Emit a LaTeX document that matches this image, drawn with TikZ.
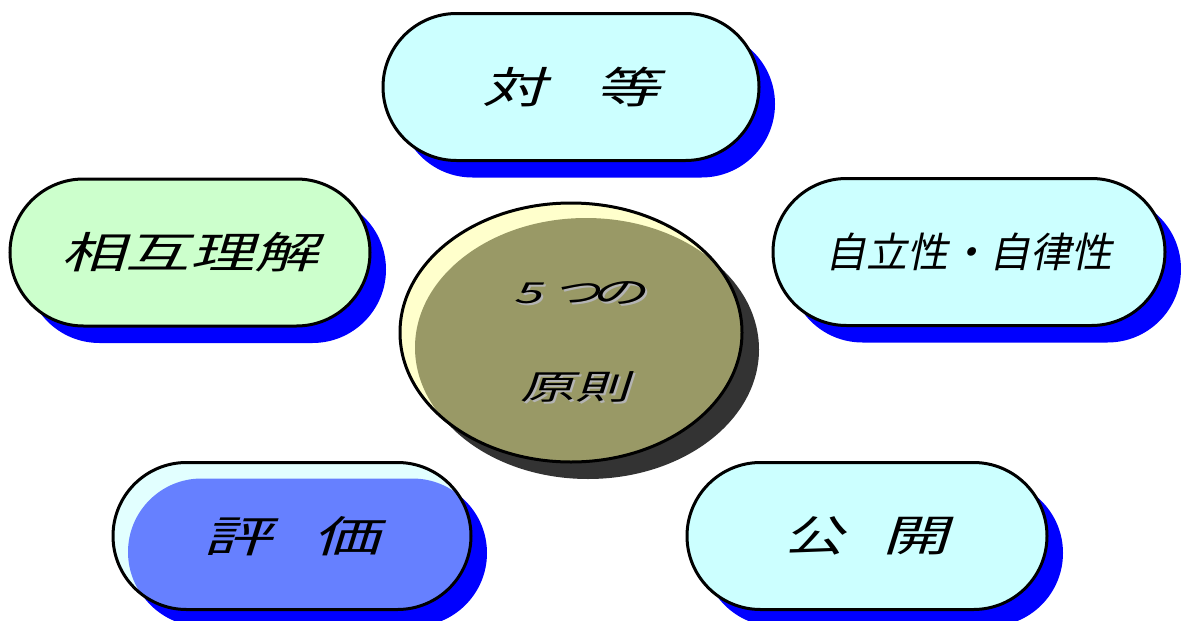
\documentclass[tikz,border=0pt]{standalone}
\usepackage{fontspec}
\usetikzlibrary{shapes.misc,shapes.geometric,shadows}
\newfontfamily\jp{Noto Sans CJK JP}[FakeSlant=0.2]
\definecolor{pillcyan}{HTML}{CCFFFF}
\definecolor{pillgreen}{HTML}{CCFFCC}
\definecolor{pillpale}{HTML}{E2FFFF}
\definecolor{pillblue}{HTML}{6680FF}
\definecolor{shadowblue}{HTML}{0000FF}
\definecolor{eggcream}{HTML}{FFFFCC}
\definecolor{eggolive}{HTML}{999966}
\definecolor{eggshadow}{HTML}{333333}
\definecolor{txtshadow}{HTML}{B4B4B4}
\newcommand{\wch}[2]{\scalebox{#1}[1]{#2}}
\tikzset{
  pill/.style={rounded rectangle, draw=black, line width=3pt, minimum height=147pt,
    inner sep=0pt, font=\jp\fontsize{43}{43}\selectfont,
    drop shadow={shadow xshift=16pt, shadow yshift=-17pt, fill=shadowblue, opacity=1}},
  egg/.style={ellipse, draw=black, line width=3pt, inner sep=0pt, fill=eggcream,
    drop shadow={shadow xshift=17pt, shadow yshift=-17pt, fill=eggshadow, opacity=1}},
  eggtext/.style={inner sep=0pt, font=\jp\fontsize{34}{34}\selectfont},
}
\begin{document}
\begin{tikzpicture}[x=1pt,y=-1pt]
\useasboundingbox (0,0) rectangle (1181,621);
% top
\node[pill, fill=pillcyan, minimum width=376pt] (fair) at (571,87)
  {\wch{1.5}{対}\hspace{49pt}\wch{1.5}{等}};
% left
\node[pill, fill=pillgreen, minimum width=360pt] (mutual) at (190,252.5)
  {\wch{1.5}{相互理解}};
% right
\node[pill, fill=pillcyan, minimum width=392pt, font=\jp\fontsize{41}{41}\selectfont] (auto) at (969,252)
  {自立性・自律性};
% bottom left
\node[pill, fill=pillpale, minimum width=358pt,
  path picture={\fill[pillblue, rounded corners=73.5pt]
    ([shift={(15pt,-16pt)}]path picture bounding box.south west) rectangle
    ([shift={(15pt,-16pt)}]path picture bounding box.north east);}]
  (eval) at (292,536) {\wch{1.6}{評}\hspace{41pt}\wch{1.55}{価}};
% bottom right
\node[pill, fill=pillcyan, minimum width=360pt] (open) at (867,536)
  {\wch{1.4}{公}\hspace{38pt}\wch{1.55}{開}};
% centre
\node[egg, minimum width=342pt, minimum height=259pt,
  path picture={\fill[eggolive]
    ([shift={(15pt,-15pt)}]path picture bounding box.center) ellipse [x radius=171pt, y radius=129.5pt];}]
  (centre) at (571,332.5) {};
\node[eggtext, text=txtshadow] (fiveS) at (582,295)
  {\scalebox{1.5}[0.85]{5}\hspace{12pt}\scalebox{1.4}[0.9]{つ}\hspace{-10pt}\scalebox{1.65}[0.9]{の}};
\node[eggtext] (five) at (580,293)
  {\scalebox{1.5}[0.85]{5}\hspace{12pt}\scalebox{1.4}[0.9]{つ}\hspace{-10pt}\scalebox{1.65}[0.9]{の}};
\node[eggtext, text=txtshadow] (prinS) at (577,389) {\scalebox{1.6}[1]{原則}};
\node[eggtext] (prin) at (575,387) {\scalebox{1.6}[1]{原則}};
\end{tikzpicture}
\end{document}
